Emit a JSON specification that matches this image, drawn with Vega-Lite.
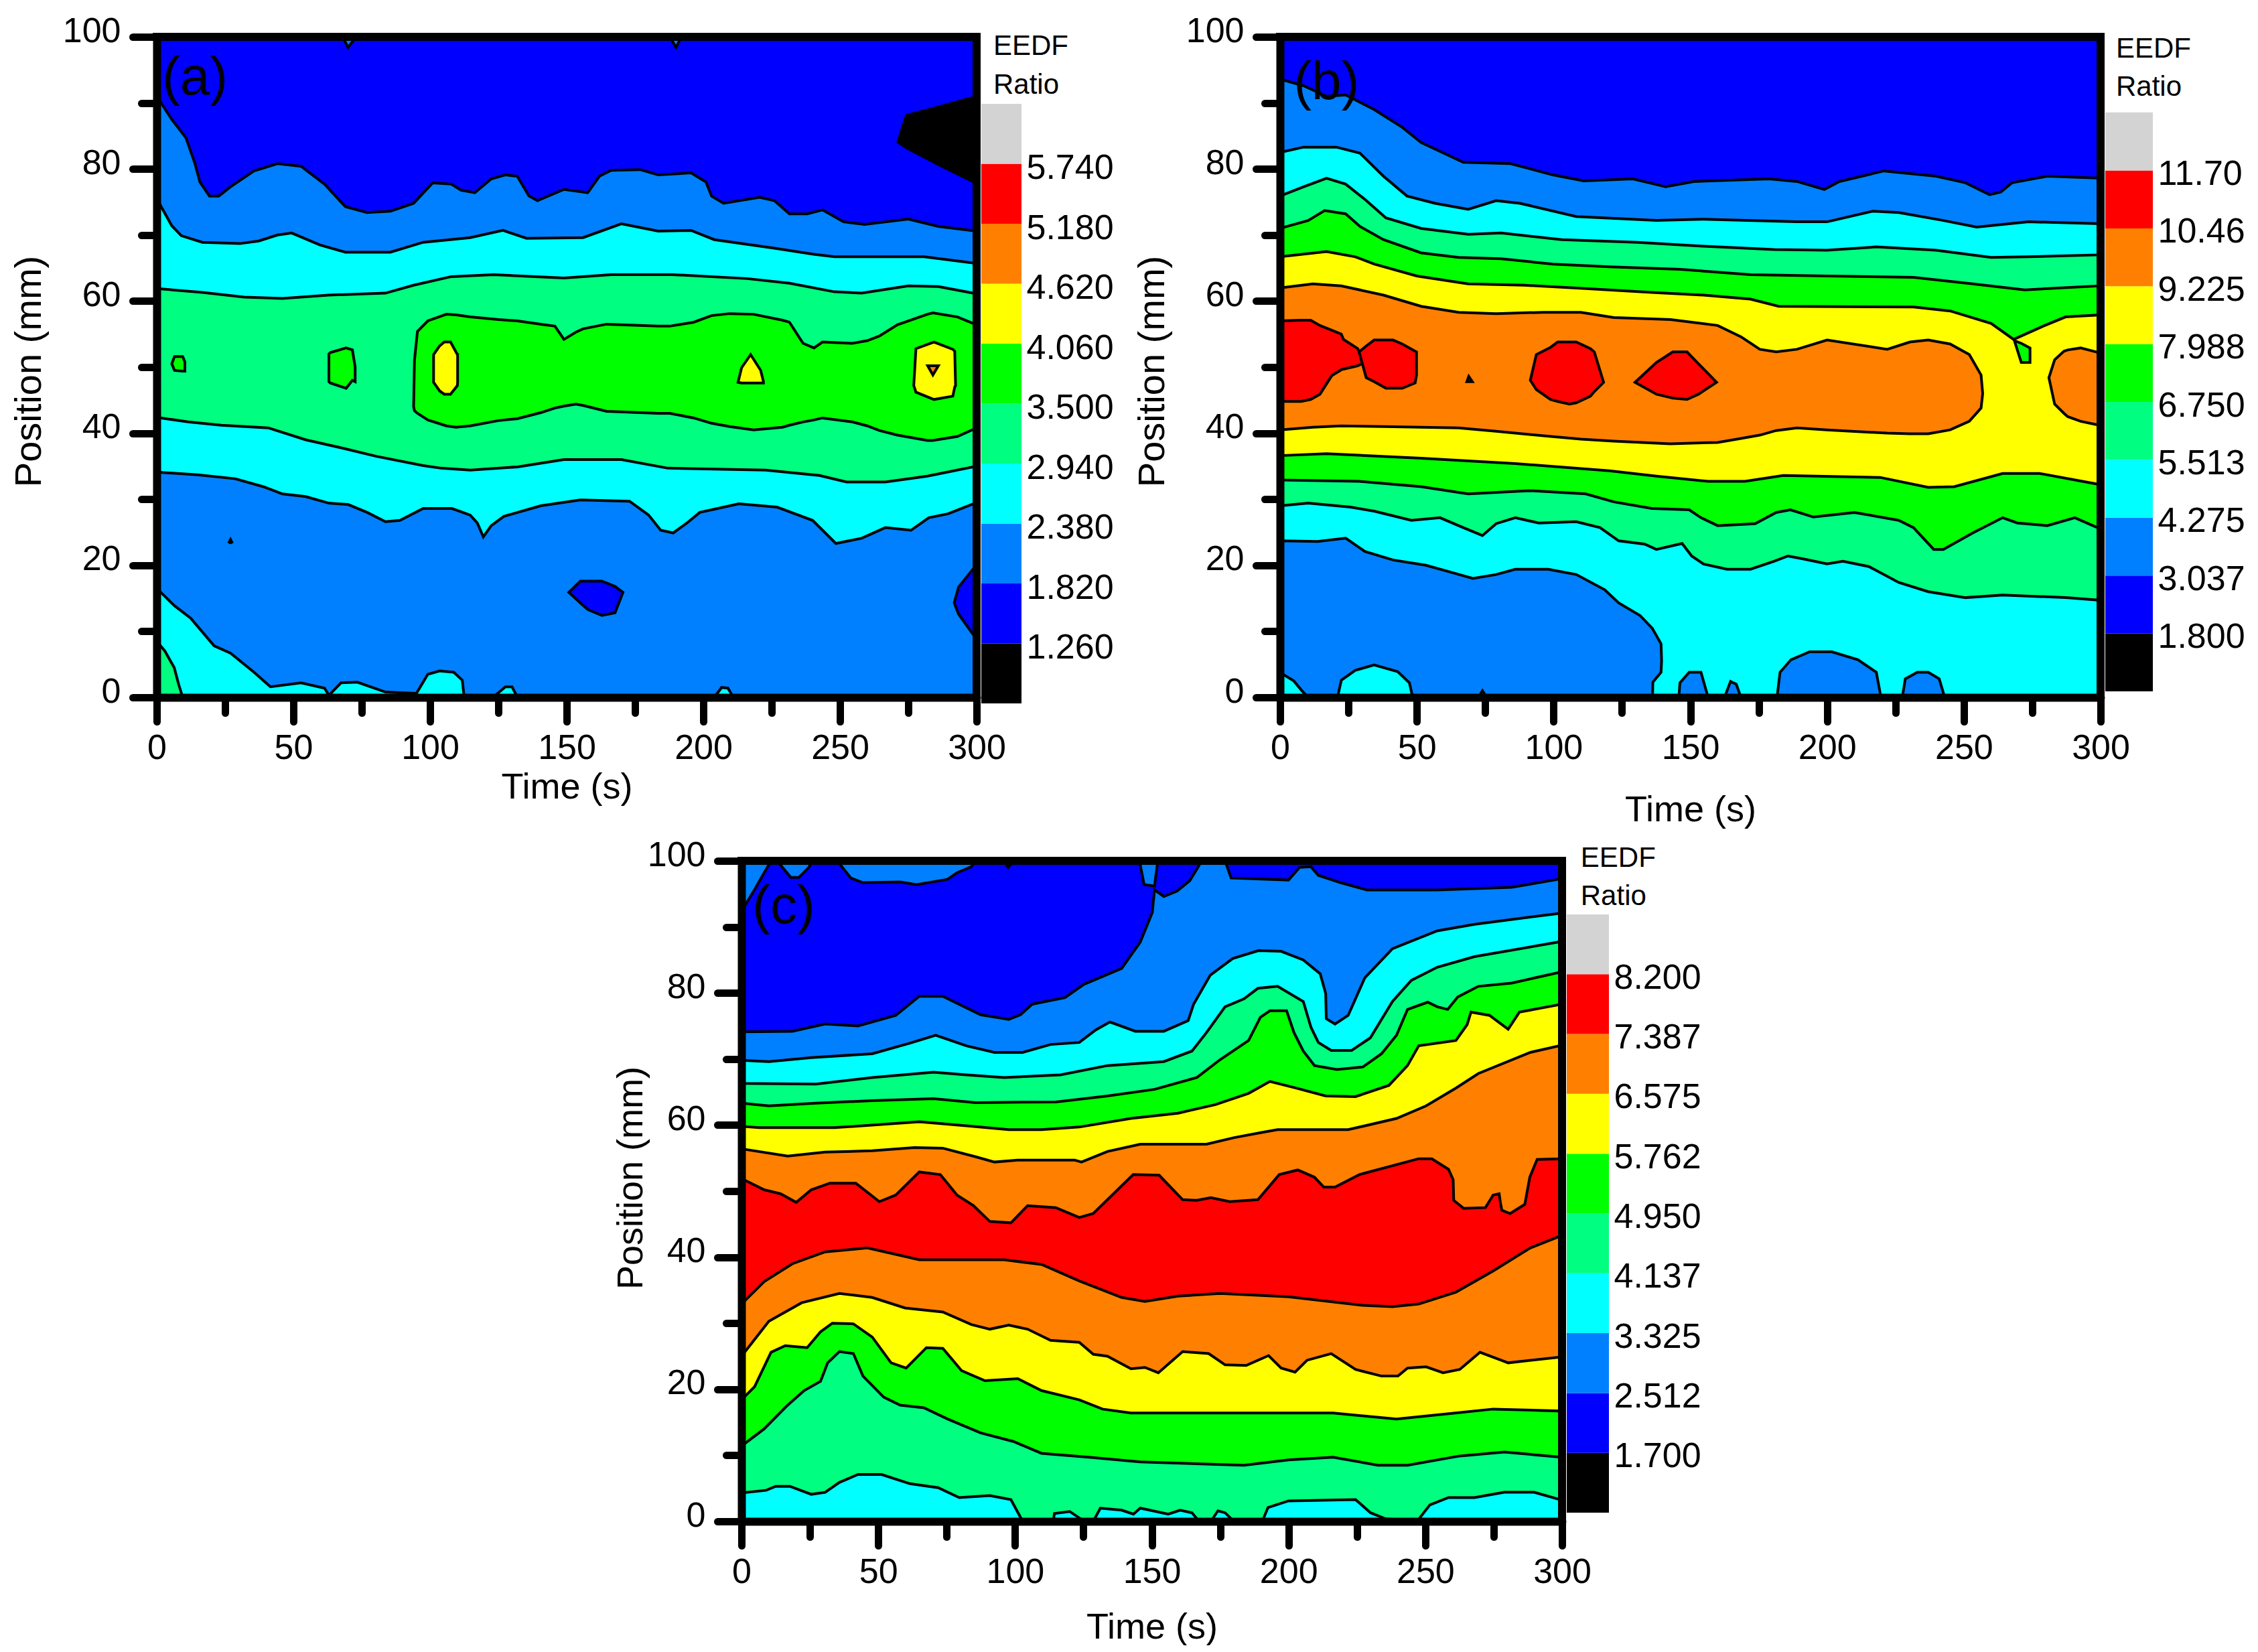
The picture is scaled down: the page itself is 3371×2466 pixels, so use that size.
{"$schema":"https://vega.github.io/schema/vega-lite/v6.json","background":"white","padding":{"left":15,"top":20,"right":0,"bottom":0},"spacing":14,"config":{"font":"Liberation Sans","view":{"stroke":null}},
"datasets":{
"a":[
{"s":"a0","b":"cyan","t":0,"p":0,"q":100},{"s":"a0","b":"cyan","t":300,"p":0,"q":100},
{"s":"a1","b":"spring","t":0,"p":0,"q":8.5},{"s":"a1","b":"spring","t":3,"p":0,"q":7},{"s":"a1","b":"spring","t":6.4,"p":0,"q":4.5},{"s":"a1","b":"spring","t":8,"p":0,"q":2},{"s":"a1","b":"spring","t":9.5,"p":0,"q":0},
{"s":"a2","b":"azure","t":0,"p":16.5,"q":100},{"s":"a2","b":"azure","t":6.4,"p":13.9,"q":100},{"s":"a2","b":"azure","t":12.4,"p":12,"q":100},{"s":"a2","b":"azure","t":21,"p":7.8,"q":100},{"s":"a2","b":"azure","t":27,"p":6.7,"q":100},{"s":"a2","b":"azure","t":35.6,"p":3.8,"q":100},{"s":"a2","b":"azure","t":41.6,"p":1.6,"q":100},{"s":"a2","b":"azure","t":52.8,"p":2.2,"q":100},{"s":"a2","b":"azure","t":61.4,"p":1.4,"q":100},{"s":"a2","b":"azure","t":63,"p":0.3,"q":100},{"s":"a2","b":"azure","t":67.4,"p":2.2,"q":100},{"s":"a2","b":"azure","t":73.4,"p":2.3,"q":100},{"s":"a2","b":"azure","t":83.7,"p":0.8,"q":100},{"s":"a2","b":"azure","t":95,"p":0.6,"q":100},{"s":"a2","b":"azure","t":99.2,"p":3.5,"q":100},{"s":"a2","b":"azure","t":103.5,"p":4,"q":100},{"s":"a2","b":"azure","t":108.7,"p":3.8,"q":100},{"s":"a2","b":"azure","t":111.8,"p":2.6,"q":100},{"s":"a2","b":"azure","t":112.5,"p":0,"q":100},{"s":"a2","b":"azure","t":123,"p":0,"q":100},{"s":"a2","b":"azure","t":127.6,"p":1.6,"q":100},{"s":"a2","b":"azure","t":130,"p":1.6,"q":100},{"s":"a2","b":"azure","t":132,"p":0,"q":100},{"s":"a2","b":"azure","t":204,"p":0,"q":100},{"s":"a2","b":"azure","t":206.7,"p":1.5,"q":100},{"s":"a2","b":"azure","t":209,"p":1.4,"q":100},{"s":"a2","b":"azure","t":211,"p":0,"q":100},{"s":"a2","b":"azure","t":300,"p":0,"q":100},
{"s":"a3","b":"cyan","t":0,"p":34.1,"q":100},{"s":"a3","b":"cyan","t":15,"p":33.7,"q":100},{"s":"a3","b":"cyan","t":28.7,"p":33.1,"q":100},{"s":"a3","b":"cyan","t":39,"p":31.9,"q":100},{"s":"a3","b":"cyan","t":46,"p":30.8,"q":100},{"s":"a3","b":"cyan","t":54.5,"p":30.4,"q":100},{"s":"a3","b":"cyan","t":63,"p":29.4,"q":100},{"s":"a3","b":"cyan","t":70,"p":29.2,"q":100},{"s":"a3","b":"cyan","t":77,"p":28,"q":100},{"s":"a3","b":"cyan","t":83.7,"p":26.6,"q":100},{"s":"a3","b":"cyan","t":89,"p":26.8,"q":100},{"s":"a3","b":"cyan","t":97.5,"p":28.6,"q":100},{"s":"a3","b":"cyan","t":108,"p":28.6,"q":100},{"s":"a3","b":"cyan","t":114.7,"p":27.6,"q":100},{"s":"a3","b":"cyan","t":117.3,"p":26.4,"q":100},{"s":"a3","b":"cyan","t":119.5,"p":24.3,"q":100},{"s":"a3","b":"cyan","t":122.4,"p":26,"q":100},{"s":"a3","b":"cyan","t":127,"p":27.4,"q":100},{"s":"a3","b":"cyan","t":140.5,"p":29,"q":100},{"s":"a3","b":"cyan","t":155,"p":29.9,"q":100},{"s":"a3","b":"cyan","t":173,"p":29.7,"q":100},{"s":"a3","b":"cyan","t":180,"p":27.6,"q":100},{"s":"a3","b":"cyan","t":184.4,"p":25.3,"q":100},{"s":"a3","b":"cyan","t":189,"p":24.9,"q":100},{"s":"a3","b":"cyan","t":194,"p":26.4,"q":100},{"s":"a3","b":"cyan","t":198.7,"p":28,"q":100},{"s":"a3","b":"cyan","t":213,"p":29.3,"q":100},{"s":"a3","b":"cyan","t":227,"p":28.8,"q":100},{"s":"a3","b":"cyan","t":240,"p":26.8,"q":100},{"s":"a3","b":"cyan","t":248.5,"p":23.3,"q":100},{"s":"a3","b":"cyan","t":258,"p":24.1,"q":100},{"s":"a3","b":"cyan","t":266.6,"p":25.7,"q":100},{"s":"a3","b":"cyan","t":276,"p":25.3,"q":100},{"s":"a3","b":"cyan","t":282.5,"p":27.2,"q":100},{"s":"a3","b":"cyan","t":289.6,"p":27.8,"q":100},{"s":"a3","b":"cyan","t":300,"p":29.5,"q":100},
{"s":"a4","b":"spring","t":0,"p":42.4,"q":100},{"s":"a4","b":"spring","t":11.5,"p":41.7,"q":100},{"s":"a4","b":"spring","t":23.6,"p":41.2,"q":100},{"s":"a4","b":"spring","t":40.8,"p":40.8,"q":100},{"s":"a4","b":"spring","t":54.5,"p":39,"q":100},{"s":"a4","b":"spring","t":68.3,"p":37.7,"q":100},{"s":"a4","b":"spring","t":80.3,"p":36.5,"q":100},{"s":"a4","b":"spring","t":97.5,"p":35.1,"q":100},{"s":"a4","b":"spring","t":104,"p":34.7,"q":100},{"s":"a4","b":"spring","t":114.7,"p":34.4,"q":100},{"s":"a4","b":"spring","t":132,"p":34.9,"q":100},{"s":"a4","b":"spring","t":149,"p":36,"q":100},{"s":"a4","b":"spring","t":170,"p":36,"q":100},{"s":"a4","b":"spring","t":187,"p":34.7,"q":100},{"s":"a4","b":"spring","t":222.8,"p":34.4,"q":100},{"s":"a4","b":"spring","t":242.5,"p":33.6,"q":100},{"s":"a4","b":"spring","t":252.4,"p":32.6,"q":100},{"s":"a4","b":"spring","t":266.6,"p":32.6,"q":100},{"s":"a4","b":"spring","t":282,"p":33.5,"q":100},{"s":"a4","b":"spring","t":300,"p":35,"q":100},
{"s":"a5","b":"green","t":94,"p":44,"q":44},{"s":"a5","b":"green","t":94.3,"p":43.4,"q":51},{"s":"a5","b":"green","t":95.4,"p":43,"q":55.4},{"s":"a5","b":"green","t":99.2,"p":42,"q":57},{"s":"a5","b":"green","t":106,"p":41.1,"q":58},{"s":"a5","b":"green","t":109.5,"p":40.9,"q":57.9},{"s":"a5","b":"green","t":114.7,"p":41.1,"q":57.6},{"s":"a5","b":"green","t":125,"p":41.9,"q":57.2},{"s":"a5","b":"green","t":132,"p":42.2,"q":57},{"s":"a5","b":"green","t":140.5,"p":43.1,"q":56.5},{"s":"a5","b":"green","t":145.7,"p":43.8,"q":56.2},{"s":"a5","b":"green","t":149,"p":44.1,"q":54.2},{"s":"a5","b":"green","t":153.4,"p":44.4,"q":55.3},{"s":"a5","b":"green","t":156,"p":44.2,"q":55.8},{"s":"a5","b":"green","t":164.6,"p":43.3,"q":56.5},{"s":"a5","b":"green","t":183.5,"p":43,"q":56.2},{"s":"a5","b":"green","t":187.7,"p":43,"q":56.2},{"s":"a5","b":"green","t":196.5,"p":42.3,"q":56.8},{"s":"a5","b":"green","t":203,"p":41.5,"q":57.8},{"s":"a5","b":"green","t":209.6,"p":41,"q":58.1},{"s":"a5","b":"green","t":218.4,"p":40.5,"q":58},{"s":"a5","b":"green","t":229,"p":40.9,"q":57.1},{"s":"a5","b":"green","t":231.5,"p":41.2,"q":56.8},{"s":"a5","b":"green","t":236.5,"p":41.7,"q":53.6},{"s":"a5","b":"green","t":240.5,"p":42,"q":52.9},{"s":"a5","b":"green","t":243.6,"p":42.3,"q":53.8},{"s":"a5","b":"green","t":254.5,"p":41.7,"q":53.6},{"s":"a5","b":"green","t":260,"p":41.1,"q":54},{"s":"a5","b":"green","t":264.4,"p":40.4,"q":54.7},{"s":"a5","b":"green","t":271,"p":39.7,"q":56.4},{"s":"a5","b":"green","t":282,"p":38.9,"q":58},{"s":"a5","b":"green","t":284,"p":38.9,"q":58.2},{"s":"a5","b":"green","t":293,"p":39.5,"q":57.6},{"s":"a5","b":"green","t":300,"p":40.8,"q":56.4},
{"s":"a9","b":"green","t":5.5,"p":50.5,"q":50.5},{"s":"a9","b":"green","t":6.5,"p":49.5,"q":51.6},{"s":"a9","b":"green","t":9.5,"p":49.4,"q":51.6},{"s":"a9","b":"green","t":10.3,"p":49.4,"q":50.8},
{"s":"a10","b":"green","t":63,"p":47.8,"q":52},{"s":"a10","b":"green","t":63.5,"p":47.6,"q":52.2},{"s":"a10","b":"green","t":69.3,"p":46.8,"q":52.9},{"s":"a10","b":"green","t":71.6,"p":48,"q":52.6},{"s":"a10","b":"green","t":72.6,"p":47.8,"q":50},
{"s":"a11","b":"yellow","t":101.3,"p":47.7,"q":51.9},{"s":"a11","b":"yellow","t":103.5,"p":46.4,"q":53.2},{"s":"a11","b":"yellow","t":105.2,"p":45.9,"q":53.8},{"s":"a11","b":"yellow","t":107.5,"p":45.9,"q":53.8},{"s":"a11","b":"yellow","t":110,"p":47.2,"q":51.9},{"s":"a11","b":"yellow","t":110.1,"p":47.7,"q":51.9},
{"s":"a12","b":"yellow","t":212.7,"p":47.7,"q":47.7},{"s":"a12","b":"yellow","t":214,"p":47.6,"q":49.9},{"s":"a12","b":"yellow","t":217.3,"p":47.6,"q":51.9},{"s":"a12","b":"yellow","t":221,"p":47.6,"q":49.5},{"s":"a12","b":"yellow","t":222,"p":47.6,"q":47.8},
{"s":"a13","b":"yellow","t":277,"p":47.2,"q":47.2},{"s":"a13","b":"yellow","t":277.8,"p":46.2,"q":52.8},{"s":"a13","b":"yellow","t":284.4,"p":45.1,"q":53.8},{"s":"a13","b":"yellow","t":291.3,"p":45.6,"q":52.7},{"s":"a13","b":"yellow","t":292,"p":47,"q":52.4},{"s":"a13","b":"yellow","t":292.3,"p":47.2,"q":47.2},
{"s":"a14","b":"orange","t":282.1,"p":50.2,"q":50.2},{"s":"a14","b":"orange","t":284,"p":48.8,"q":50.2},{"s":"a14","b":"orange","t":286,"p":50.2,"q":50.2},
{"s":"a6","b":"cyan","t":0,"p":61.9,"q":100},{"s":"a6","b":"cyan","t":16.7,"p":61.3,"q":100},{"s":"a6","b":"cyan","t":32,"p":60.6,"q":100},{"s":"a6","b":"cyan","t":46,"p":60.4,"q":100},{"s":"a6","b":"cyan","t":63,"p":60.9,"q":100},{"s":"a6","b":"cyan","t":83.7,"p":61.2,"q":100},{"s":"a6","b":"cyan","t":94,"p":62.4,"q":100},{"s":"a6","b":"cyan","t":107.8,"p":63.7,"q":100},{"s":"a6","b":"cyan","t":123.3,"p":64,"q":100},{"s":"a6","b":"cyan","t":149,"p":63.5,"q":100},{"s":"a6","b":"cyan","t":166.3,"p":64,"q":100},{"s":"a6","b":"cyan","t":188.6,"p":64,"q":100},{"s":"a6","b":"cyan","t":216,"p":63.4,"q":100},{"s":"a6","b":"cyan","t":231.5,"p":62.7,"q":100},{"s":"a6","b":"cyan","t":248,"p":61.4,"q":100},{"s":"a6","b":"cyan","t":258,"p":61.2,"q":100},{"s":"a6","b":"cyan","t":275,"p":62.3,"q":100},{"s":"a6","b":"cyan","t":286,"p":62.2,"q":100},{"s":"a6","b":"cyan","t":300,"p":61.1,"q":100},
{"s":"a7","b":"azure","t":0,"p":75.5,"q":100},{"s":"a7","b":"azure","t":5.5,"p":71.4,"q":100},{"s":"a7","b":"azure","t":9,"p":69.9,"q":100},{"s":"a7","b":"azure","t":16.7,"p":68.9,"q":100},{"s":"a7","b":"azure","t":30.4,"p":68.7,"q":100},{"s":"a7","b":"azure","t":37.3,"p":69.1,"q":100},{"s":"a7","b":"azure","t":44.2,"p":70,"q":100},{"s":"a7","b":"azure","t":49.4,"p":70.3,"q":100},{"s":"a7","b":"azure","t":59.7,"p":68.5,"q":100},{"s":"a7","b":"azure","t":69,"p":67.4,"q":100},{"s":"a7","b":"azure","t":85.5,"p":67.4,"q":100},{"s":"a7","b":"azure","t":97.5,"p":68.9,"q":100},{"s":"a7","b":"azure","t":114.7,"p":69.6,"q":100},{"s":"a7","b":"azure","t":126.7,"p":70.7,"q":100},{"s":"a7","b":"azure","t":135.3,"p":69.5,"q":100},{"s":"a7","b":"azure","t":156,"p":69.6,"q":100},{"s":"a7","b":"azure","t":170,"p":71.7,"q":100},{"s":"a7","b":"azure","t":183.5,"p":70.6,"q":100},{"s":"a7","b":"azure","t":195.5,"p":70.7,"q":100},{"s":"a7","b":"azure","t":204,"p":69.3,"q":100},{"s":"a7","b":"azure","t":226,"p":68,"q":100},{"s":"a7","b":"azure","t":240.3,"p":67.1,"q":100},{"s":"a7","b":"azure","t":248,"p":66.7,"q":100},{"s":"a7","b":"azure","t":280.8,"p":66.7,"q":100},{"s":"a7","b":"azure","t":300,"p":65.7,"q":100},
{"s":"a8","b":"blue","t":0,"p":91,"q":100},{"s":"a8","b":"blue","t":5.5,"p":87.5,"q":100},{"s":"a8","b":"blue","t":10.7,"p":84.7,"q":100},{"s":"a8","b":"blue","t":14,"p":80.8,"q":100},{"s":"a8","b":"blue","t":15.8,"p":78,"q":100},{"s":"a8","b":"blue","t":19.3,"p":75.9,"q":100},{"s":"a8","b":"blue","t":22.7,"p":75.9,"q":100},{"s":"a8","b":"blue","t":27,"p":77.3,"q":100},{"s":"a8","b":"blue","t":35.6,"p":79.7,"q":100},{"s":"a8","b":"blue","t":44.2,"p":80.8,"q":100},{"s":"a8","b":"blue","t":52.8,"p":80.4,"q":100},{"s":"a8","b":"blue","t":61.4,"p":77.7,"q":100},{"s":"a8","b":"blue","t":69,"p":74.3,"q":100},{"s":"a8","b":"blue","t":76.9,"p":73.4,"q":100},{"s":"a8","b":"blue","t":85.5,"p":73.6,"q":100},{"s":"a8","b":"blue","t":94,"p":74.8,"q":100},{"s":"a8","b":"blue","t":101,"p":77.9,"q":100},{"s":"a8","b":"blue","t":107.8,"p":77.7,"q":100},{"s":"a8","b":"blue","t":111.3,"p":76.8,"q":100},{"s":"a8","b":"blue","t":116.4,"p":76.4,"q":100},{"s":"a8","b":"blue","t":122.4,"p":78.5,"q":100},{"s":"a8","b":"blue","t":127.6,"p":79.1,"q":100},{"s":"a8","b":"blue","t":131.9,"p":78.9,"q":100},{"s":"a8","b":"blue","t":136.2,"p":75.9,"q":100},{"s":"a8","b":"blue","t":139.3,"p":75.2,"q":100},{"s":"a8","b":"blue","t":149,"p":76.9,"q":100},{"s":"a8","b":"blue","t":157.7,"p":76.4,"q":100},{"s":"a8","b":"blue","t":162,"p":78.9,"q":100},{"s":"a8","b":"blue","t":166.3,"p":79.8,"q":100},{"s":"a8","b":"blue","t":176.8,"p":79.9,"q":100},{"s":"a8","b":"blue","t":183.5,"p":79.1,"q":100},{"s":"a8","b":"blue","t":195.5,"p":79.4,"q":100},{"s":"a8","b":"blue","t":201,"p":78,"q":100},{"s":"a8","b":"blue","t":203,"p":75.9,"q":100},{"s":"a8","b":"blue","t":207.4,"p":74.8,"q":100},{"s":"a8","b":"blue","t":220.6,"p":75.7,"q":100},{"s":"a8","b":"blue","t":226,"p":75.2,"q":100},{"s":"a8","b":"blue","t":231.5,"p":73.2,"q":100},{"s":"a8","b":"blue","t":238,"p":73.2,"q":100},{"s":"a8","b":"blue","t":243.6,"p":73.8,"q":100},{"s":"a8","b":"blue","t":251.3,"p":72,"q":100},{"s":"a8","b":"blue","t":259,"p":71.6,"q":100},{"s":"a8","b":"blue","t":275,"p":72.4,"q":100},{"s":"a8","b":"blue","t":286,"p":71.3,"q":100},{"s":"a8","b":"blue","t":300,"p":70.6,"q":100},
{"s":"a15","b":"azure","t":68,"p":100,"q":100},{"s":"a15","b":"azure","t":70,"p":98.4,"q":100},{"s":"a15","b":"azure","t":73,"p":100,"q":100},
{"s":"a16","b":"azure","t":187.8,"p":100,"q":100},{"s":"a16","b":"azure","t":190,"p":98.4,"q":100},{"s":"a16","b":"azure","t":192,"p":100,"q":100},
{"s":"a17","b":"blue","t":150.8,"p":15.9,"q":15.9},{"s":"a17","b":"blue","t":155,"p":14.3,"q":17.6},{"s":"a17","b":"blue","t":157.7,"p":13.3,"q":17.6},{"s":"a17","b":"blue","t":162.9,"p":12.4,"q":17.6},{"s":"a17","b":"blue","t":167.7,"p":12.8,"q":16.8},{"s":"a17","b":"blue","t":170.6,"p":15.9,"q":15.9},
{"s":"a18","b":"blue","t":291.8,"p":14.3,"q":14.3},{"s":"a18","b":"blue","t":293.4,"p":12.6,"q":16.7},{"s":"a18","b":"blue","t":298.6,"p":9.6,"q":19.4},{"s":"a18","b":"blue","t":300,"p":9,"q":20},
{"s":"a19","b":"black","t":271.2,"p":84.1,"q":84.1},{"s":"a19","b":"black","t":274.3,"p":83.2,"q":88.1},{"s":"a19","b":"black","t":286.3,"p":80.6,"q":89.4},{"s":"a19","b":"black","t":298.6,"p":78.1,"q":90.8},{"s":"a19","b":"black","t":300,"p":77.8,"q":91},
{"s":"a20","b":"black","t":26.5,"p":23.5,"q":23.5},{"s":"a20","b":"black","t":27,"p":23.4,"q":23.9},{"s":"a20","b":"black","t":27.5,"p":23.5,"q":23.5}
],
"b":[
{"s":"b0","b":"cyan","t":0,"p":0,"q":100},{"s":"b0","b":"cyan","t":300,"p":0,"q":100},
{"s":"b1","b":"azure","t":0,"p":0,"q":23.7},{"s":"b1","b":"azure","t":13.8,"p":0,"q":23.6},{"s":"b1","b":"azure","t":24,"p":0,"q":24.1},{"s":"b1","b":"azure","t":31,"p":0,"q":22.1},{"s":"b1","b":"azure","t":41.3,"p":0,"q":20.8},{"s":"b1","b":"azure","t":53.3,"p":0,"q":20},{"s":"b1","b":"azure","t":62,"p":0,"q":19},{"s":"b1","b":"azure","t":70.5,"p":0,"q":18},{"s":"b1","b":"azure","t":79,"p":0,"q":18.6},{"s":"b1","b":"azure","t":86,"p":0,"q":19.4},{"s":"b1","b":"azure","t":98,"p":0,"q":19.4},{"s":"b1","b":"azure","t":108.3,"p":0,"q":18.6},{"s":"b1","b":"azure","t":118.7,"p":0,"q":16.3},{"s":"b1","b":"azure","t":123.8,"p":0,"q":14.3},{"s":"b1","b":"azure","t":131.6,"p":0,"q":12.4},{"s":"b1","b":"azure","t":136.2,"p":0,"q":10.4},{"s":"b1","b":"azure","t":136.3,"p":2.3,"q":10.3},{"s":"b1","b":"azure","t":139.3,"p":3.8,"q":8.1},{"s":"b1","b":"azure","t":139.5,"p":5.5,"q":5.5},
{"s":"b2","b":"cyan","t":0,"p":0,"q":3.6},{"s":"b2","b":"cyan","t":1.5,"p":0,"q":3.4},{"s":"b2","b":"cyan","t":5,"p":0,"q":2.5},{"s":"b2","b":"cyan","t":8,"p":0,"q":1},{"s":"b2","b":"cyan","t":10.3,"p":0,"q":0},
{"s":"b3","b":"cyan","t":21,"p":0,"q":0},{"s":"b3","b":"cyan","t":22.4,"p":0,"q":2.6},{"s":"b3","b":"cyan","t":27.5,"p":0,"q":4.1},{"s":"b3","b":"cyan","t":34.4,"p":0,"q":4.9},{"s":"b3","b":"cyan","t":43,"p":0,"q":3.9},{"s":"b3","b":"cyan","t":47.3,"p":0,"q":2.2},{"s":"b3","b":"cyan","t":48.5,"p":0,"q":0},
{"s":"b4","b":"cyan","t":72.5,"p":0,"q":0},{"s":"b4","b":"cyan","t":74,"p":0,"q":1},{"s":"b4","b":"cyan","t":75.5,"p":0,"q":0},
{"s":"b5","b":"azure","t":145.8,"p":0,"q":0},{"s":"b5","b":"azure","t":146.2,"p":0,"q":2.2},{"s":"b5","b":"azure","t":149.6,"p":0,"q":3.8},{"s":"b5","b":"azure","t":153.9,"p":0,"q":3.8},{"s":"b5","b":"azure","t":156.5,"p":0,"q":0},
{"s":"b6","b":"azure","t":162.5,"p":0,"q":0},{"s":"b6","b":"azure","t":164.7,"p":0,"q":2.4},{"s":"b6","b":"azure","t":166.8,"p":0,"q":2},{"s":"b6","b":"azure","t":168.5,"p":0,"q":0},
{"s":"b7","b":"azure","t":181.7,"p":0,"q":0},{"s":"b7","b":"azure","t":182.8,"p":0,"q":3.8},{"s":"b7","b":"azure","t":186.8,"p":0,"q":5.7},{"s":"b7","b":"azure","t":193.6,"p":0,"q":6.9},{"s":"b7","b":"azure","t":201.8,"p":0,"q":6.9},{"s":"b7","b":"azure","t":211.3,"p":0,"q":5.7},{"s":"b7","b":"azure","t":218,"p":0,"q":3.8},{"s":"b7","b":"azure","t":219.7,"p":0,"q":0},
{"s":"b8","b":"azure","t":227.5,"p":0,"q":0},{"s":"b8","b":"azure","t":228.6,"p":0,"q":2.8},{"s":"b8","b":"azure","t":233,"p":0,"q":3.8},{"s":"b8","b":"azure","t":237,"p":0,"q":3.8},{"s":"b8","b":"azure","t":241,"p":0,"q":2.8},{"s":"b8","b":"azure","t":243,"p":0,"q":0},
{"s":"b9","b":"spring","t":0,"p":29,"q":100},{"s":"b9","b":"spring","t":10.3,"p":29.4,"q":100},{"s":"b9","b":"spring","t":25.8,"p":28.8,"q":100},{"s":"b9","b":"spring","t":34.4,"p":28.2,"q":100},{"s":"b9","b":"spring","t":48,"p":26.8,"q":100},{"s":"b9","b":"spring","t":58.5,"p":27.2,"q":100},{"s":"b9","b":"spring","t":67,"p":25.7,"q":100},{"s":"b9","b":"spring","t":74,"p":24.5,"q":100},{"s":"b9","b":"spring","t":79,"p":26.3,"q":100},{"s":"b9","b":"spring","t":86,"p":27.2,"q":100},{"s":"b9","b":"spring","t":94.6,"p":26.4,"q":100},{"s":"b9","b":"spring","t":108.3,"p":26.6,"q":100},{"s":"b9","b":"spring","t":117,"p":25.7,"q":100},{"s":"b9","b":"spring","t":123.8,"p":23.7,"q":100},{"s":"b9","b":"spring","t":133.3,"p":23.2,"q":100},{"s":"b9","b":"spring","t":137.6,"p":22.4,"q":100},{"s":"b9","b":"spring","t":147,"p":23.3,"q":100},{"s":"b9","b":"spring","t":150.5,"p":21.4,"q":100},{"s":"b9","b":"spring","t":154.8,"p":20.2,"q":100},{"s":"b9","b":"spring","t":163.4,"p":19.4,"q":100},{"s":"b9","b":"spring","t":172,"p":19.4,"q":100},{"s":"b9","b":"spring","t":180.6,"p":20.6,"q":100},{"s":"b9","b":"spring","t":185.7,"p":21.4,"q":100},{"s":"b9","b":"spring","t":190.9,"p":21,"q":100},{"s":"b9","b":"spring","t":200,"p":20.2,"q":100},{"s":"b9","b":"spring","t":205.8,"p":20.6,"q":100},{"s":"b9","b":"spring","t":215.3,"p":19.8,"q":100},{"s":"b9","b":"spring","t":226.2,"p":17.4,"q":100},{"s":"b9","b":"spring","t":237,"p":16,"q":100},{"s":"b9","b":"spring","t":250.6,"p":15.1,"q":100},{"s":"b9","b":"spring","t":264.2,"p":15.5,"q":100},{"s":"b9","b":"spring","t":287.2,"p":15.1,"q":100},{"s":"b9","b":"spring","t":300,"p":14.7,"q":100},
{"s":"b10","b":"green","t":0,"p":32.9,"q":100},{"s":"b10","b":"green","t":29,"p":32.7,"q":100},{"s":"b10","b":"green","t":51.6,"p":31.9,"q":100},{"s":"b10","b":"green","t":68.8,"p":30.8,"q":100},{"s":"b10","b":"green","t":91,"p":31.3,"q":100},{"s":"b10","b":"green","t":111.8,"p":30.8,"q":100},{"s":"b10","b":"green","t":122,"p":29.6,"q":100},{"s":"b10","b":"green","t":135.9,"p":28.6,"q":100},{"s":"b10","b":"green","t":149.6,"p":28.4,"q":100},{"s":"b10","b":"green","t":153.9,"p":27.2,"q":100},{"s":"b10","b":"green","t":160,"p":26,"q":100},{"s":"b10","b":"green","t":173.7,"p":26.3,"q":100},{"s":"b10","b":"green","t":181.4,"p":28,"q":100},{"s":"b10","b":"green","t":186.6,"p":28.4,"q":100},{"s":"b10","b":"green","t":195,"p":27.3,"q":100},{"s":"b10","b":"green","t":210,"p":28,"q":100},{"s":"b10","b":"green","t":226.2,"p":26.8,"q":100},{"s":"b10","b":"green","t":231.6,"p":25.7,"q":100},{"s":"b10","b":"green","t":239,"p":22.4,"q":100},{"s":"b10","b":"green","t":242.5,"p":22.4,"q":100},{"s":"b10","b":"green","t":253.3,"p":24.9,"q":100},{"s":"b10","b":"green","t":264.2,"p":27.2,"q":100},{"s":"b10","b":"green","t":269.6,"p":26.4,"q":100},{"s":"b10","b":"green","t":280.5,"p":26,"q":100},{"s":"b10","b":"green","t":290.6,"p":27.2,"q":100},{"s":"b10","b":"green","t":300,"p":25.5,"q":100},
{"s":"b11","b":"yellow","t":0,"p":36.6,"q":100},{"s":"b11","b":"yellow","t":17,"p":36.9,"q":100},{"s":"b11","b":"yellow","t":51.6,"p":36.2,"q":100},{"s":"b11","b":"yellow","t":86,"p":35.4,"q":100},{"s":"b11","b":"yellow","t":120.4,"p":34.3,"q":100},{"s":"b11","b":"yellow","t":137.6,"p":33.5,"q":100},{"s":"b11","b":"yellow","t":156.5,"p":32.7,"q":100},{"s":"b11","b":"yellow","t":170,"p":32.7,"q":100},{"s":"b11","b":"yellow","t":184,"p":33.6,"q":100},{"s":"b11","b":"yellow","t":219.4,"p":33.3,"q":100},{"s":"b11","b":"yellow","t":237,"p":31.8,"q":100},{"s":"b11","b":"yellow","t":246.5,"p":31.9,"q":100},{"s":"b11","b":"yellow","t":264.2,"p":33.9,"q":100},{"s":"b11","b":"yellow","t":277.7,"p":33.9,"q":100},{"s":"b11","b":"yellow","t":300,"p":32.2,"q":100},
{"s":"b12","b":"orange","t":0,"p":40.5,"q":62},{"s":"b12","b":"orange","t":12,"p":40.9,"q":62.6},{"s":"b12","b":"orange","t":22.4,"p":41.1,"q":62.3},{"s":"b12","b":"orange","t":37.8,"p":41,"q":60.9},{"s":"b12","b":"orange","t":51.6,"p":40.9,"q":59.2},{"s":"b12","b":"orange","t":65.3,"p":40.8,"q":58.3},{"s":"b12","b":"orange","t":79,"p":40.3,"q":58.1},{"s":"b12","b":"orange","t":96.3,"p":39.6,"q":58.3},{"s":"b12","b":"orange","t":110,"p":39.1,"q":58.3},{"s":"b12","b":"orange","t":122,"p":38.8,"q":57.5},{"s":"b12","b":"orange","t":142.7,"p":38.4,"q":57.2},{"s":"b12","b":"orange","t":160,"p":38.6,"q":56.3},{"s":"b12","b":"orange","t":168.5,"p":39.2,"q":54.6},{"s":"b12","b":"orange","t":175.4,"p":39.7,"q":52.7},{"s":"b12","b":"orange","t":181.4,"p":40.4,"q":52.3},{"s":"b12","b":"orange","t":189,"p":40.8,"q":52.7},{"s":"b12","b":"orange","t":200,"p":40.5,"q":54.1},{"s":"b12","b":"orange","t":222,"p":40,"q":52.7},{"s":"b12","b":"orange","t":230.3,"p":39.9,"q":53.8},{"s":"b12","b":"orange","t":237,"p":39.9,"q":54.1},{"s":"b12","b":"orange","t":245,"p":40.5,"q":53.5},{"s":"b12","b":"orange","t":252,"p":41.8,"q":51.9},{"s":"b12","b":"orange","t":256.3,"p":43.8,"q":48.8},{"s":"b12","b":"orange","t":256.9,"p":46,"q":46},
{"s":"b13","b":"orange","t":281.1,"p":48.4,"q":48.4},{"s":"b13","b":"orange","t":283.2,"p":44.4,"q":51.1},{"s":"b13","b":"orange","t":286.6,"p":43,"q":52.4},{"s":"b13","b":"orange","t":288,"p":42.5,"q":52.6},{"s":"b13","b":"orange","t":292.7,"p":41.8,"q":52.9},{"s":"b13","b":"orange","t":298.4,"p":41.3,"q":52.3},{"s":"b13","b":"orange","t":300,"p":41.2,"q":52.1},
{"s":"b14","b":"red","t":0,"p":44.8,"q":57},{"s":"b14","b":"red","t":7.7,"p":44.8,"q":57.1},{"s":"b14","b":"red","t":11.2,"p":45.1,"q":57.1},{"s":"b14","b":"red","t":14.6,"p":45.9,"q":56.3},{"s":"b14","b":"red","t":18.9,"p":48.7,"q":55.6},{"s":"b14","b":"red","t":22.4,"p":49.6,"q":55},{"s":"b14","b":"red","t":23.2,"p":49.7,"q":54.2},{"s":"b14","b":"red","t":28.4,"p":50.2,"q":52.8},{"s":"b14","b":"red","t":30.6,"p":50.6,"q":50.6},
{"s":"b15","b":"red","t":28.9,"p":52.3,"q":52.3},{"s":"b15","b":"red","t":31.5,"p":48.4,"q":53.2},{"s":"b15","b":"red","t":34.4,"p":47.8,"q":54.1},{"s":"b15","b":"red","t":38.7,"p":46.8,"q":54.1},{"s":"b15","b":"red","t":41.3,"p":46.8,"q":54.1},{"s":"b15","b":"red","t":44.7,"p":46.8,"q":53.5},{"s":"b15","b":"red","t":49.4,"p":47.6,"q":52.4},{"s":"b15","b":"red","t":49.9,"p":48.8,"q":52.3},
{"s":"b16","b":"red","t":68.3,"p":47.8,"q":47.8},{"s":"b16","b":"red","t":69,"p":47.8,"q":48.6},{"s":"b16","b":"red","t":70.3,"p":47.8,"q":47.8},
{"s":"b17","b":"red","t":91.5,"p":48,"q":48},{"s":"b17","b":"red","t":93.7,"p":46.6,"q":51.9},{"s":"b17","b":"red","t":98.9,"p":45.1,"q":53},{"s":"b17","b":"red","t":101.5,"p":44.8,"q":53.8},{"s":"b17","b":"red","t":105.8,"p":44.4,"q":53.8},{"s":"b17","b":"red","t":108.3,"p":44.6,"q":53.8},{"s":"b17","b":"red","t":113.5,"p":45.6,"q":52.8},{"s":"b17","b":"red","t":114.9,"p":46.3,"q":52.3},{"s":"b17","b":"red","t":118.3,"p":47.7,"q":47.7},
{"s":"b18","b":"red","t":129.8,"p":47.7,"q":47.7},{"s":"b18","b":"red","t":137.6,"p":45.9,"q":50.7},{"s":"b18","b":"red","t":143.6,"p":45.3,"q":52.3},{"s":"b18","b":"red","t":148.8,"p":45.1,"q":52.3},{"s":"b18","b":"red","t":153,"p":45.9,"q":50.5},{"s":"b18","b":"red","t":159.6,"p":47.7,"q":47.7},
{"s":"b19","b":"green","t":268.5,"p":54,"q":54},{"s":"b19","b":"green","t":271,"p":50.7,"q":53.6},{"s":"b19","b":"green","t":274.2,"p":50.7,"q":52.9},
{"s":"b20","b":"green","t":0,"p":66.7,"q":100},{"s":"b20","b":"green","t":17,"p":67.5,"q":100},{"s":"b20","b":"green","t":27.5,"p":66.7,"q":100},{"s":"b20","b":"green","t":34.4,"p":65.6,"q":100},{"s":"b20","b":"green","t":50,"p":63.8,"q":100},{"s":"b20","b":"green","t":68.8,"p":62.6,"q":100},{"s":"b20","b":"green","t":89.4,"p":62.4,"q":100},{"s":"b20","b":"green","t":111.8,"p":61.9,"q":100},{"s":"b20","b":"green","t":135.9,"p":61.3,"q":100},{"s":"b20","b":"green","t":154.8,"p":60.9,"q":100},{"s":"b20","b":"green","t":172,"p":60.3,"q":100},{"s":"b20","b":"green","t":182.3,"p":59.2,"q":100},{"s":"b20","b":"green","t":231.6,"p":59.1,"q":100},{"s":"b20","b":"green","t":245,"p":58.5,"q":100},{"s":"b20","b":"green","t":260,"p":56.6,"q":100},{"s":"b20","b":"green","t":268.2,"p":54.2,"q":100},{"s":"b20","b":"green","t":279,"p":56.2,"q":100},{"s":"b20","b":"green","t":287.2,"p":57.6,"q":100},{"s":"b20","b":"green","t":300,"p":57.9,"q":100},
{"s":"b21","b":"spring","t":0,"p":71,"q":100},{"s":"b21","b":"spring","t":10.3,"p":72.2,"q":100},{"s":"b21","b":"spring","t":16.3,"p":73.7,"q":100},{"s":"b21","b":"spring","t":24,"p":73.2,"q":100},{"s":"b21","b":"spring","t":29.2,"p":71.3,"q":100},{"s":"b21","b":"spring","t":37.8,"p":69.3,"q":100},{"s":"b21","b":"spring","t":51.6,"p":67.3,"q":100},{"s":"b21","b":"spring","t":65.3,"p":66.6,"q":100},{"s":"b21","b":"spring","t":80.8,"p":66.4,"q":100},{"s":"b21","b":"spring","t":99.7,"p":65.6,"q":100},{"s":"b21","b":"spring","t":120.4,"p":65.2,"q":100},{"s":"b21","b":"spring","t":146.2,"p":64.8,"q":100},{"s":"b21","b":"spring","t":172,"p":64,"q":100},{"s":"b21","b":"spring","t":200,"p":63.8,"q":100},{"s":"b21","b":"spring","t":231.6,"p":63.6,"q":100},{"s":"b21","b":"spring","t":253.3,"p":62.6,"q":100},{"s":"b21","b":"spring","t":272.3,"p":61.7,"q":100},{"s":"b21","b":"spring","t":300,"p":62.3,"q":100},
{"s":"b22","b":"cyan","t":0,"p":75.9,"q":100},{"s":"b22","b":"cyan","t":8.6,"p":77.3,"q":100},{"s":"b22","b":"cyan","t":17,"p":78.6,"q":100},{"s":"b22","b":"cyan","t":24,"p":77.7,"q":100},{"s":"b22","b":"cyan","t":31,"p":75.4,"q":100},{"s":"b22","b":"cyan","t":38.7,"p":72.6,"q":100},{"s":"b22","b":"cyan","t":51.6,"p":71,"q":100},{"s":"b22","b":"cyan","t":68.8,"p":70.1,"q":100},{"s":"b22","b":"cyan","t":80.8,"p":70.3,"q":100},{"s":"b22","b":"cyan","t":103,"p":69.3,"q":100},{"s":"b22","b":"cyan","t":130.7,"p":68.9,"q":100},{"s":"b22","b":"cyan","t":154.8,"p":68.3,"q":100},{"s":"b22","b":"cyan","t":180.6,"p":67.8,"q":100},{"s":"b22","b":"cyan","t":200,"p":67.7,"q":100},{"s":"b22","b":"cyan","t":218,"p":68.2,"q":100},{"s":"b22","b":"cyan","t":239.8,"p":67.7,"q":100},{"s":"b22","b":"cyan","t":260,"p":66.6,"q":100},{"s":"b22","b":"cyan","t":273.7,"p":66.7,"q":100},{"s":"b22","b":"cyan","t":300,"p":67,"q":100},
{"s":"b23","b":"azure","t":0,"p":82.5,"q":100},{"s":"b23","b":"azure","t":8.6,"p":83.3,"q":100},{"s":"b23","b":"azure","t":20.6,"p":83.3,"q":100},{"s":"b23","b":"azure","t":29.2,"p":82.4,"q":100},{"s":"b23","b":"azure","t":37.8,"p":78.9,"q":100},{"s":"b23","b":"azure","t":46.4,"p":75.9,"q":100},{"s":"b23","b":"azure","t":56.7,"p":74.8,"q":100},{"s":"b23","b":"azure","t":68.8,"p":73.9,"q":100},{"s":"b23","b":"azure","t":79,"p":75.2,"q":100},{"s":"b23","b":"azure","t":87.7,"p":74.8,"q":100},{"s":"b23","b":"azure","t":108.3,"p":72.8,"q":100},{"s":"b23","b":"azure","t":137.6,"p":72.2,"q":100},{"s":"b23","b":"azure","t":154.8,"p":72.4,"q":100},{"s":"b23","b":"azure","t":189,"p":72,"q":100},{"s":"b23","b":"azure","t":200,"p":72,"q":100},{"s":"b23","b":"azure","t":216.7,"p":73.6,"q":100},{"s":"b23","b":"azure","t":226.2,"p":73.4,"q":100},{"s":"b23","b":"azure","t":242.5,"p":72.2,"q":100},{"s":"b23","b":"azure","t":254.7,"p":71.2,"q":100},{"s":"b23","b":"azure","t":273.7,"p":72,"q":100},{"s":"b23","b":"azure","t":300,"p":71.7,"q":100},
{"s":"b24","b":"blue","t":0,"p":93.6,"q":100},{"s":"b24","b":"blue","t":8.6,"p":92.6,"q":100},{"s":"b24","b":"blue","t":17,"p":91,"q":100},{"s":"b24","b":"blue","t":24,"p":91.2,"q":100},{"s":"b24","b":"blue","t":34.4,"p":89,"q":100},{"s":"b24","b":"blue","t":44.7,"p":86.3,"q":100},{"s":"b24","b":"blue","t":51.6,"p":84,"q":100},{"s":"b24","b":"blue","t":67,"p":81,"q":100},{"s":"b24","b":"blue","t":84.3,"p":80.8,"q":100},{"s":"b24","b":"blue","t":99.7,"p":79.1,"q":100},{"s":"b24","b":"blue","t":111,"p":78.2,"q":100},{"s":"b24","b":"blue","t":129,"p":78.5,"q":100},{"s":"b24","b":"blue","t":141,"p":77.3,"q":100},{"s":"b24","b":"blue","t":151.3,"p":78.1,"q":100},{"s":"b24","b":"blue","t":178.8,"p":78.5,"q":100},{"s":"b24","b":"blue","t":189,"p":78.1,"q":100},{"s":"b24","b":"blue","t":199,"p":76.9,"q":100},{"s":"b24","b":"blue","t":204.5,"p":78.1,"q":100},{"s":"b24","b":"blue","t":220.8,"p":79.7,"q":100},{"s":"b24","b":"blue","t":239.8,"p":78.9,"q":100},{"s":"b24","b":"blue","t":250.6,"p":77.9,"q":100},{"s":"b24","b":"blue","t":259.4,"p":76.1,"q":100},{"s":"b24","b":"blue","t":263.5,"p":76.5,"q":100},{"s":"b24","b":"blue","t":267.6,"p":77.9,"q":100},{"s":"b24","b":"blue","t":280.5,"p":78.9,"q":100},{"s":"b24","b":"blue","t":300,"p":78.6,"q":100}
],
"c":[
{"s":"c0","b":"cyan","t":0,"p":0,"q":100},{"s":"c0","b":"cyan","t":300,"p":0,"q":100},
{"s":"c1","b":"spring","t":0,"p":4.3,"q":100},{"s":"c1","b":"spring","t":9,"p":4.7,"q":100},{"s":"c1","b":"spring","t":12.5,"p":5.3,"q":100},{"s":"c1","b":"spring","t":17.7,"p":5.3,"q":100},{"s":"c1","b":"spring","t":25.5,"p":4.1,"q":100},{"s":"c1","b":"spring","t":30.6,"p":4.4,"q":100},{"s":"c1","b":"spring","t":35.8,"p":5.9,"q":100},{"s":"c1","b":"spring","t":42.6,"p":7.1,"q":100},{"s":"c1","b":"spring","t":51.2,"p":7.1,"q":100},{"s":"c1","b":"spring","t":61.6,"p":5.7,"q":100},{"s":"c1","b":"spring","t":71.9,"p":5.1,"q":100},{"s":"c1","b":"spring","t":79.6,"p":3.6,"q":100},{"s":"c1","b":"spring","t":90.8,"p":3.9,"q":100},{"s":"c1","b":"spring","t":98.5,"p":3.3,"q":100},{"s":"c1","b":"spring","t":102.8,"p":0,"q":100},{"s":"c1","b":"spring","t":114,"p":0,"q":100},{"s":"c1","b":"spring","t":114.4,"p":1.2,"q":100},{"s":"c1","b":"spring","t":120,"p":1.5,"q":100},{"s":"c1","b":"spring","t":124.3,"p":0.3,"q":100},{"s":"c1","b":"spring","t":128.6,"p":0,"q":100},{"s":"c1","b":"spring","t":131.2,"p":2,"q":100},{"s":"c1","b":"spring","t":139,"p":1.7,"q":100},{"s":"c1","b":"spring","t":143.3,"p":1.1,"q":100},{"s":"c1","b":"spring","t":145.8,"p":2,"q":100},{"s":"c1","b":"spring","t":156,"p":1.1,"q":100},{"s":"c1","b":"spring","t":160.4,"p":1.7,"q":100},{"s":"c1","b":"spring","t":164.7,"p":1.3,"q":100},{"s":"c1","b":"spring","t":167.3,"p":0,"q":100},{"s":"c1","b":"spring","t":171.6,"p":0,"q":100},{"s":"c1","b":"spring","t":174.2,"p":1.6,"q":100},{"s":"c1","b":"spring","t":176.8,"p":1.3,"q":100},{"s":"c1","b":"spring","t":180,"p":0,"q":100},{"s":"c1","b":"spring","t":190.4,"p":0,"q":100},{"s":"c1","b":"spring","t":192.5,"p":2.1,"q":100},{"s":"c1","b":"spring","t":200,"p":3.1,"q":100},{"s":"c1","b":"spring","t":224.5,"p":3.3,"q":100},{"s":"c1","b":"spring","t":230,"p":1.3,"q":100},{"s":"c1","b":"spring","t":235.4,"p":0.4,"q":100},{"s":"c1","b":"spring","t":247,"p":0,"q":100},{"s":"c1","b":"spring","t":251.7,"p":2.5,"q":100},{"s":"c1","b":"spring","t":258.5,"p":3.6,"q":100},{"s":"c1","b":"spring","t":268,"p":3.6,"q":100},{"s":"c1","b":"spring","t":278.9,"p":4.4,"q":100},{"s":"c1","b":"spring","t":289.8,"p":4.4,"q":100},{"s":"c1","b":"spring","t":300,"p":3.2,"q":100},
{"s":"c2","b":"green","t":0,"p":11.4,"q":100},{"s":"c2","b":"green","t":8.3,"p":14,"q":100},{"s":"c2","b":"green","t":16.9,"p":17.6,"q":100},{"s":"c2","b":"green","t":22.9,"p":19.8,"q":100},{"s":"c2","b":"green","t":28.9,"p":21.2,"q":100},{"s":"c2","b":"green","t":31.5,"p":24,"q":100},{"s":"c2","b":"green","t":35.8,"p":25.7,"q":100},{"s":"c2","b":"green","t":40.9,"p":25.4,"q":100},{"s":"c2","b":"green","t":44.4,"p":22,"q":100},{"s":"c2","b":"green","t":52,"p":18.8,"q":100},{"s":"c2","b":"green","t":58,"p":17.6,"q":100},{"s":"c2","b":"green","t":66.7,"p":17.2,"q":100},{"s":"c2","b":"green","t":75.3,"p":15.5,"q":100},{"s":"c2","b":"green","t":87.4,"p":13.4,"q":100},{"s":"c2","b":"green","t":99.4,"p":12.1,"q":100},{"s":"c2","b":"green","t":109.7,"p":10.3,"q":100},{"s":"c2","b":"green","t":127,"p":9.7,"q":100},{"s":"c2","b":"green","t":145.8,"p":9,"q":100},{"s":"c2","b":"green","t":168,"p":8.7,"q":100},{"s":"c2","b":"green","t":183.7,"p":8.5,"q":100},{"s":"c2","b":"green","t":200,"p":9.3,"q":100},{"s":"c2","b":"green","t":216.3,"p":9.7,"q":100},{"s":"c2","b":"green","t":232.7,"p":8.5,"q":100},{"s":"c2","b":"green","t":243.5,"p":8.5,"q":100},{"s":"c2","b":"green","t":262.6,"p":9.9,"q":100},{"s":"c2","b":"green","t":278.9,"p":10.5,"q":100},{"s":"c2","b":"green","t":300,"p":9.7,"q":100},
{"s":"c3","b":"yellow","t":0,"p":18.4,"q":100},{"s":"c3","b":"yellow","t":4.8,"p":20.4,"q":100},{"s":"c3","b":"yellow","t":10.8,"p":25.6,"q":100},{"s":"c3","b":"yellow","t":16,"p":26.6,"q":100},{"s":"c3","b":"yellow","t":24,"p":26.3,"q":100},{"s":"c3","b":"yellow","t":28.9,"p":28.7,"q":100},{"s":"c3","b":"yellow","t":33.2,"p":30,"q":100},{"s":"c3","b":"yellow","t":40.9,"p":29.9,"q":100},{"s":"c3","b":"yellow","t":47.8,"p":27.9,"q":100},{"s":"c3","b":"yellow","t":54.7,"p":24,"q":100},{"s":"c3","b":"yellow","t":60.2,"p":23.2,"q":100},{"s":"c3","b":"yellow","t":67.6,"p":26.3,"q":100},{"s":"c3","b":"yellow","t":73.6,"p":26.2,"q":100},{"s":"c3","b":"yellow","t":80.5,"p":22.8,"q":100},{"s":"c3","b":"yellow","t":89,"p":21.3,"q":100},{"s":"c3","b":"yellow","t":101,"p":21.6,"q":100},{"s":"c3","b":"yellow","t":109.7,"p":19.8,"q":100},{"s":"c3","b":"yellow","t":123.5,"p":18.4,"q":100},{"s":"c3","b":"yellow","t":132,"p":17,"q":100},{"s":"c3","b":"yellow","t":142.4,"p":16.4,"q":100},{"s":"c3","b":"yellow","t":216.3,"p":16.4,"q":100},{"s":"c3","b":"yellow","t":239.5,"p":15.5,"q":100},{"s":"c3","b":"yellow","t":261,"p":16.4,"q":100},{"s":"c3","b":"yellow","t":274.8,"p":17,"q":100},{"s":"c3","b":"yellow","t":300,"p":16.7,"q":100},
{"s":"c4","b":"orange","t":0,"p":25,"q":100},{"s":"c4","b":"orange","t":10,"p":30.3,"q":100},{"s":"c4","b":"orange","t":22,"p":33.1,"q":100},{"s":"c4","b":"orange","t":35.8,"p":34.5,"q":100},{"s":"c4","b":"orange","t":47.8,"p":33.9,"q":100},{"s":"c4","b":"orange","t":59.8,"p":32.3,"q":100},{"s":"c4","b":"orange","t":73.6,"p":31.7,"q":100},{"s":"c4","b":"orange","t":84,"p":29.8,"q":100},{"s":"c4","b":"orange","t":90.8,"p":29.1,"q":100},{"s":"c4","b":"orange","t":97.7,"p":29.7,"q":100},{"s":"c4","b":"orange","t":104.6,"p":29.1,"q":100},{"s":"c4","b":"orange","t":113,"p":27.4,"q":100},{"s":"c4","b":"orange","t":123.5,"p":27.1,"q":100},{"s":"c4","b":"orange","t":128.6,"p":25.3,"q":100},{"s":"c4","b":"orange","t":133.8,"p":25,"q":100},{"s":"c4","b":"orange","t":142.4,"p":23.1,"q":100},{"s":"c4","b":"orange","t":147.5,"p":23.3,"q":100},{"s":"c4","b":"orange","t":152.4,"p":22.5,"q":100},{"s":"c4","b":"orange","t":161.3,"p":25.7,"q":100},{"s":"c4","b":"orange","t":170.8,"p":25.4,"q":100},{"s":"c4","b":"orange","t":176.8,"p":23.7,"q":100},{"s":"c4","b":"orange","t":184.5,"p":23.6,"q":100},{"s":"c4","b":"orange","t":192.7,"p":25.1,"q":100},{"s":"c4","b":"orange","t":197.3,"p":23.2,"q":100},{"s":"c4","b":"orange","t":202.4,"p":22.6,"q":100},{"s":"c4","b":"orange","t":206.8,"p":24.4,"q":100},{"s":"c4","b":"orange","t":215.6,"p":25.4,"q":100},{"s":"c4","b":"orange","t":224.5,"p":23,"q":100},{"s":"c4","b":"orange","t":234,"p":22,"q":100},{"s":"c4","b":"orange","t":240,"p":22,"q":100},{"s":"c4","b":"orange","t":243.5,"p":23.2,"q":100},{"s":"c4","b":"orange","t":250.3,"p":23.4,"q":100},{"s":"c4","b":"orange","t":256.5,"p":22.5,"q":100},{"s":"c4","b":"orange","t":262.6,"p":23,"q":100},{"s":"c4","b":"orange","t":270,"p":25.6,"q":100},{"s":"c4","b":"orange","t":280.3,"p":24,"q":100},{"s":"c4","b":"orange","t":300,"p":24.9,"q":100},
{"s":"c5","b":"red","t":0,"p":32.9,"q":100},{"s":"c5","b":"red","t":8.3,"p":36.3,"q":100},{"s":"c5","b":"red","t":18.6,"p":39,"q":100},{"s":"c5","b":"red","t":30.6,"p":40.8,"q":100},{"s":"c5","b":"red","t":46,"p":41.4,"q":100},{"s":"c5","b":"red","t":65,"p":39.6,"q":100},{"s":"c5","b":"red","t":96,"p":39.6,"q":100},{"s":"c5","b":"red","t":109.7,"p":38.9,"q":100},{"s":"c5","b":"red","t":123.5,"p":36.4,"q":100},{"s":"c5","b":"red","t":139,"p":33.9,"q":100},{"s":"c5","b":"red","t":147.5,"p":33.3,"q":100},{"s":"c5","b":"red","t":159.6,"p":34.1,"q":100},{"s":"c5","b":"red","t":175,"p":34.5,"q":100},{"s":"c5","b":"red","t":200,"p":34,"q":100},{"s":"c5","b":"red","t":227.2,"p":32.7,"q":100},{"s":"c5","b":"red","t":238,"p":32.5,"q":100},{"s":"c5","b":"red","t":247.6,"p":32.9,"q":100},{"s":"c5","b":"red","t":261.2,"p":34.7,"q":100},{"s":"c5","b":"red","t":274.8,"p":37.9,"q":100},{"s":"c5","b":"red","t":288.4,"p":41.4,"q":100},{"s":"c5","b":"red","t":300,"p":43.3,"q":100},
{"s":"c6","b":"orange","t":0,"p":51.9,"q":100},{"s":"c6","b":"orange","t":8.3,"p":50.2,"q":100},{"s":"c6","b":"orange","t":14.3,"p":49.6,"q":100},{"s":"c6","b":"orange","t":20,"p":48.3,"q":100},{"s":"c6","b":"orange","t":25.5,"p":50.2,"q":100},{"s":"c6","b":"orange","t":32.3,"p":51.2,"q":100},{"s":"c6","b":"orange","t":41.8,"p":51.2,"q":100},{"s":"c6","b":"orange","t":50.4,"p":48.4,"q":100},{"s":"c6","b":"orange","t":56.4,"p":49.4,"q":100},{"s":"c6","b":"orange","t":65,"p":52.9,"q":100},{"s":"c6","b":"orange","t":72.7,"p":52.5,"q":100},{"s":"c6","b":"orange","t":78.8,"p":49.4,"q":100},{"s":"c6","b":"orange","t":84.8,"p":47.8,"q":100},{"s":"c6","b":"orange","t":90.8,"p":45.4,"q":100},{"s":"c6","b":"orange","t":98.5,"p":45.2,"q":100},{"s":"c6","b":"orange","t":104.6,"p":47.8,"q":100},{"s":"c6","b":"orange","t":114.9,"p":47.5,"q":100},{"s":"c6","b":"orange","t":123.5,"p":46,"q":100},{"s":"c6","b":"orange","t":128.6,"p":46.6,"q":100},{"s":"c6","b":"orange","t":143.2,"p":52.5,"q":100},{"s":"c6","b":"orange","t":152.7,"p":52.4,"q":100},{"s":"c6","b":"orange","t":161.3,"p":48.7,"q":100},{"s":"c6","b":"orange","t":166.5,"p":48.6,"q":100},{"s":"c6","b":"orange","t":171.6,"p":49,"q":100},{"s":"c6","b":"orange","t":178.5,"p":48.4,"q":100},{"s":"c6","b":"orange","t":188.8,"p":48.7,"q":100},{"s":"c6","b":"orange","t":196.6,"p":52.5,"q":100},{"s":"c6","b":"orange","t":203.4,"p":53.2,"q":100},{"s":"c6","b":"orange","t":209.5,"p":52.1,"q":100},{"s":"c6","b":"orange","t":212.9,"p":50.6,"q":100},{"s":"c6","b":"orange","t":217,"p":50.6,"q":100},{"s":"c6","b":"orange","t":225.9,"p":52.5,"q":100},{"s":"c6","b":"orange","t":247.6,"p":54.9,"q":100},{"s":"c6","b":"orange","t":252.4,"p":54.9,"q":100},{"s":"c6","b":"orange","t":258.5,"p":53.3,"q":100},{"s":"c6","b":"orange","t":260.2,"p":51.7,"q":100},{"s":"c6","b":"orange","t":260.4,"p":48.6,"q":100},{"s":"c6","b":"orange","t":264,"p":47.4,"q":100},{"s":"c6","b":"orange","t":272,"p":47.5,"q":100},{"s":"c6","b":"orange","t":274.8,"p":49.4,"q":100},{"s":"c6","b":"orange","t":277,"p":49.6,"q":100},{"s":"c6","b":"orange","t":277.5,"p":48.2,"q":100},{"s":"c6","b":"orange","t":278,"p":47.1,"q":100},{"s":"c6","b":"orange","t":281,"p":46.6,"q":100},{"s":"c6","b":"orange","t":286.4,"p":48,"q":100},{"s":"c6","b":"orange","t":288.2,"p":52.1,"q":100},{"s":"c6","b":"orange","t":290.9,"p":54.8,"q":100},{"s":"c6","b":"orange","t":300,"p":54.9,"q":100},
{"s":"c7","b":"yellow","t":0,"p":56.4,"q":100},{"s":"c7","b":"yellow","t":16.9,"p":55.3,"q":100},{"s":"c7","b":"yellow","t":30.6,"p":55.9,"q":100},{"s":"c7","b":"yellow","t":47.8,"p":56.1,"q":100},{"s":"c7","b":"yellow","t":63.3,"p":56.6,"q":100},{"s":"c7","b":"yellow","t":73.6,"p":56.5,"q":100},{"s":"c7","b":"yellow","t":85.6,"p":55.2,"q":100},{"s":"c7","b":"yellow","t":92.5,"p":54.4,"q":100},{"s":"c7","b":"yellow","t":101,"p":54.7,"q":100},{"s":"c7","b":"yellow","t":121.8,"p":54.7,"q":100},{"s":"c7","b":"yellow","t":124.3,"p":54.4,"q":100},{"s":"c7","b":"yellow","t":133.8,"p":56,"q":100},{"s":"c7","b":"yellow","t":145.8,"p":57.1,"q":100},{"s":"c7","b":"yellow","t":170,"p":57.1,"q":100},{"s":"c7","b":"yellow","t":180.2,"p":58.1,"q":100},{"s":"c7","b":"yellow","t":190.5,"p":58.9,"q":100},{"s":"c7","b":"yellow","t":196,"p":59.3,"q":100},{"s":"c7","b":"yellow","t":221.8,"p":59.3,"q":100},{"s":"c7","b":"yellow","t":239.5,"p":61,"q":100},{"s":"c7","b":"yellow","t":250.3,"p":62.9,"q":100},{"s":"c7","b":"yellow","t":261.2,"p":65.6,"q":100},{"s":"c7","b":"yellow","t":269.4,"p":67.8,"q":100},{"s":"c7","b":"yellow","t":288.4,"p":71,"q":100},{"s":"c7","b":"yellow","t":300,"p":72.1,"q":100},
{"s":"c8","b":"green","t":0,"p":59.8,"q":100},{"s":"c8","b":"green","t":6.5,"p":59.6,"q":100},{"s":"c8","b":"green","t":34,"p":59.6,"q":100},{"s":"c8","b":"green","t":65,"p":60.5,"q":100},{"s":"c8","b":"green","t":82.2,"p":59.9,"q":100},{"s":"c8","b":"green","t":97.7,"p":59.3,"q":100},{"s":"c8","b":"green","t":109.7,"p":59.3,"q":100},{"s":"c8","b":"green","t":123.5,"p":59.7,"q":100},{"s":"c8","b":"green","t":142.4,"p":61,"q":100},{"s":"c8","b":"green","t":159.6,"p":61.8,"q":100},{"s":"c8","b":"green","t":173.3,"p":63.1,"q":100},{"s":"c8","b":"green","t":185.4,"p":64.8,"q":100},{"s":"c8","b":"green","t":193.2,"p":66.6,"q":100},{"s":"c8","b":"green","t":202.7,"p":65.6,"q":100},{"s":"c8","b":"green","t":213.6,"p":64.4,"q":100},{"s":"c8","b":"green","t":224.5,"p":64.3,"q":100},{"s":"c8","b":"green","t":236.7,"p":66,"q":100},{"s":"c8","b":"green","t":243.5,"p":69,"q":100},{"s":"c8","b":"green","t":247.6,"p":72,"q":100},{"s":"c8","b":"green","t":261.2,"p":72.8,"q":100},{"s":"c8","b":"green","t":265.3,"p":75.2,"q":100},{"s":"c8","b":"green","t":266.7,"p":77.1,"q":100},{"s":"c8","b":"green","t":273.5,"p":76.6,"q":100},{"s":"c8","b":"green","t":280.3,"p":74.5,"q":100},{"s":"c8","b":"green","t":284.4,"p":77.1,"q":100},{"s":"c8","b":"green","t":300,"p":78.3,"q":100},
{"s":"c9","b":"spring","t":0,"p":63.3,"q":100},{"s":"c9","b":"spring","t":10,"p":62.9,"q":100},{"s":"c9","b":"spring","t":27.2,"p":63.3,"q":100},{"s":"c9","b":"spring","t":47.8,"p":63.7,"q":100},{"s":"c9","b":"spring","t":70.2,"p":64,"q":100},{"s":"c9","b":"spring","t":85.6,"p":63.4,"q":100},{"s":"c9","b":"spring","t":114.9,"p":63.5,"q":100},{"s":"c9","b":"spring","t":133.8,"p":64.4,"q":100},{"s":"c9","b":"spring","t":151,"p":65.4,"q":100},{"s":"c9","b":"spring","t":166.5,"p":67.2,"q":100},{"s":"c9","b":"spring","t":175,"p":69.9,"q":100},{"s":"c9","b":"spring","t":185.4,"p":72.8,"q":100},{"s":"c9","b":"spring","t":189.7,"p":76.3,"q":100},{"s":"c9","b":"spring","t":193.2,"p":77.3,"q":100},{"s":"c9","b":"spring","t":199.3,"p":77.3,"q":100},{"s":"c9","b":"spring","t":202,"p":74,"q":100},{"s":"c9","b":"spring","t":205.4,"p":71.2,"q":100},{"s":"c9","b":"spring","t":209.5,"p":69,"q":100},{"s":"c9","b":"spring","t":217.7,"p":68.4,"q":100},{"s":"c9","b":"spring","t":227.2,"p":68.8,"q":100},{"s":"c9","b":"spring","t":234,"p":70.8,"q":100},{"s":"c9","b":"spring","t":239.5,"p":73.6,"q":100},{"s":"c9","b":"spring","t":243.5,"p":77.5,"q":100},{"s":"c9","b":"spring","t":250.9,"p":78.6,"q":100},{"s":"c9","b":"spring","t":254.4,"p":77.9,"q":100},{"s":"c9","b":"spring","t":258.2,"p":77.5,"q":100},{"s":"c9","b":"spring","t":261.9,"p":79.4,"q":100},{"s":"c9","b":"spring","t":269.4,"p":81,"q":100},{"s":"c9","b":"spring","t":281.6,"p":81.5,"q":100},{"s":"c9","b":"spring","t":300,"p":83.2,"q":100},
{"s":"c10","b":"cyan","t":0,"p":66.3,"q":100},{"s":"c10","b":"cyan","t":27.2,"p":66.2,"q":100},{"s":"c10","b":"cyan","t":47.8,"p":67.2,"q":100},{"s":"c10","b":"cyan","t":70.2,"p":68,"q":100},{"s":"c10","b":"cyan","t":82.2,"p":67.6,"q":100},{"s":"c10","b":"cyan","t":96,"p":67.2,"q":100},{"s":"c10","b":"cyan","t":116.6,"p":67.6,"q":100},{"s":"c10","b":"cyan","t":133.8,"p":69,"q":100},{"s":"c10","b":"cyan","t":154.4,"p":69.6,"q":100},{"s":"c10","b":"cyan","t":164.7,"p":71.2,"q":100},{"s":"c10","b":"cyan","t":170,"p":74,"q":100},{"s":"c10","b":"cyan","t":176.8,"p":77.9,"q":100},{"s":"c10","b":"cyan","t":183.7,"p":79.1,"q":100},{"s":"c10","b":"cyan","t":188.8,"p":80.7,"q":100},{"s":"c10","b":"cyan","t":196,"p":81,"q":100},{"s":"c10","b":"cyan","t":205.4,"p":78.7,"q":100},{"s":"c10","b":"cyan","t":208.2,"p":74.8,"q":100},{"s":"c10","b":"cyan","t":210.9,"p":72.5,"q":100},{"s":"c10","b":"cyan","t":215.6,"p":71.3,"q":100},{"s":"c10","b":"cyan","t":223.1,"p":71.3,"q":100},{"s":"c10","b":"cyan","t":229.9,"p":73.2,"q":100},{"s":"c10","b":"cyan","t":238,"p":78.7,"q":100},{"s":"c10","b":"cyan","t":244.9,"p":81.9,"q":100},{"s":"c10","b":"cyan","t":254.4,"p":83.9,"q":100},{"s":"c10","b":"cyan","t":268,"p":85.5,"q":100},{"s":"c10","b":"cyan","t":300,"p":87.8,"q":100},
{"s":"c11","b":"azure","t":0,"p":69.8,"q":100},{"s":"c11","b":"azure","t":10,"p":69.6,"q":100},{"s":"c11","b":"azure","t":25.5,"p":70.2,"q":100},{"s":"c11","b":"azure","t":47.8,"p":70.8,"q":100},{"s":"c11","b":"azure","t":61.6,"p":72.4,"q":100},{"s":"c11","b":"azure","t":71,"p":73.6,"q":100},{"s":"c11","b":"azure","t":82.2,"p":72,"q":100},{"s":"c11","b":"azure","t":92.5,"p":71,"q":100},{"s":"c11","b":"azure","t":102.8,"p":71,"q":100},{"s":"c11","b":"azure","t":113,"p":72.2,"q":100},{"s":"c11","b":"azure","t":123.5,"p":72.5,"q":100},{"s":"c11","b":"azure","t":129.5,"p":74.4,"q":100},{"s":"c11","b":"azure","t":134.7,"p":75.6,"q":100},{"s":"c11","b":"azure","t":144,"p":74.2,"q":100},{"s":"c11","b":"azure","t":154.4,"p":74.2,"q":100},{"s":"c11","b":"azure","t":163.3,"p":75.8,"q":100},{"s":"c11","b":"azure","t":165.3,"p":78.3,"q":100},{"s":"c11","b":"azure","t":171.4,"p":82.7,"q":100},{"s":"c11","b":"azure","t":179.6,"p":85.2,"q":100},{"s":"c11","b":"azure","t":189,"p":86.4,"q":100},{"s":"c11","b":"azure","t":197.3,"p":86.3,"q":100},{"s":"c11","b":"azure","t":205.4,"p":85,"q":100},{"s":"c11","b":"azure","t":211.6,"p":82.9,"q":100},{"s":"c11","b":"azure","t":213.6,"p":79.9,"q":100},{"s":"c11","b":"azure","t":213.8,"p":76.1,"q":100},{"s":"c11","b":"azure","t":217,"p":75.3,"q":100},{"s":"c11","b":"azure","t":221.8,"p":76.6,"q":100},{"s":"c11","b":"azure","t":227.9,"p":82.3,"q":100},{"s":"c11","b":"azure","t":238,"p":86.7,"q":100},{"s":"c11","b":"azure","t":254.4,"p":89.4,"q":100},{"s":"c11","b":"azure","t":268,"p":90.4,"q":100},{"s":"c11","b":"azure","t":300,"p":92.1,"q":100},
{"s":"c12","b":"blue","t":0,"p":74.1,"q":100},{"s":"c12","b":"blue","t":18.6,"p":74.2,"q":100},{"s":"c12","b":"blue","t":30.6,"p":75.3,"q":100},{"s":"c12","b":"blue","t":42.6,"p":75,"q":100},{"s":"c12","b":"blue","t":56.4,"p":76.6,"q":100},{"s":"c12","b":"blue","t":65,"p":79.5,"q":100},{"s":"c12","b":"blue","t":73.6,"p":79.5,"q":100},{"s":"c12","b":"blue","t":87.4,"p":76.7,"q":100},{"s":"c12","b":"blue","t":97.7,"p":76,"q":100},{"s":"c12","b":"blue","t":102,"p":76.7,"q":100},{"s":"c12","b":"blue","t":106.3,"p":78.3,"q":100},{"s":"c12","b":"blue","t":118.3,"p":79.3,"q":100},{"s":"c12","b":"blue","t":125.2,"p":81.3,"q":100},{"s":"c12","b":"blue","t":139,"p":83.7,"q":100},{"s":"c12","b":"blue","t":145.8,"p":87.7,"q":100},{"s":"c12","b":"blue","t":150.2,"p":92.2,"q":100},{"s":"c12","b":"blue","t":151,"p":95.6,"q":100},{"s":"c12","b":"blue","t":154.4,"p":94.6,"q":100},{"s":"c12","b":"blue","t":159.2,"p":95.4,"q":100},{"s":"c12","b":"blue","t":163.9,"p":97,"q":100},{"s":"c12","b":"blue","t":167.3,"p":99.3,"q":100},{"s":"c12","b":"blue","t":168,"p":100,"q":100},{"s":"c12","b":"blue","t":176.8,"p":100,"q":100},{"s":"c12","b":"blue","t":179,"p":97.4,"q":100},{"s":"c12","b":"blue","t":200,"p":97.1,"q":100},{"s":"c12","b":"blue","t":204,"p":99,"q":100},{"s":"c12","b":"blue","t":208.2,"p":99.1,"q":100},{"s":"c12","b":"blue","t":210.9,"p":97.8,"q":100},{"s":"c12","b":"blue","t":219,"p":96.7,"q":100},{"s":"c12","b":"blue","t":228.6,"p":95.6,"q":100},{"s":"c12","b":"blue","t":254.4,"p":95.6,"q":100},{"s":"c12","b":"blue","t":281.6,"p":96,"q":100},{"s":"c12","b":"blue","t":300,"p":97.3,"q":100},
{"s":"c13","b":"azure","t":0,"p":92.5,"q":100},{"s":"c13","b":"azure","t":1.5,"p":93.4,"q":100},{"s":"c13","b":"azure","t":5,"p":95.8,"q":100},{"s":"c13","b":"azure","t":8,"p":98,"q":100},{"s":"c13","b":"azure","t":10,"p":99.4,"q":100},{"s":"c13","b":"azure","t":11,"p":100,"q":100},
{"s":"c14","b":"azure","t":13,"p":100,"q":100},{"s":"c14","b":"azure","t":15,"p":99,"q":100},{"s":"c14","b":"azure","t":18,"p":97.5,"q":100},{"s":"c14","b":"azure","t":21,"p":97.5,"q":100},{"s":"c14","b":"azure","t":24.6,"p":99,"q":100},{"s":"c14","b":"azure","t":26,"p":100,"q":100},
{"s":"c15","b":"azure","t":35,"p":100,"q":100},{"s":"c15","b":"azure","t":40,"p":97.4,"q":100},{"s":"c15","b":"azure","t":44.4,"p":96.7,"q":100},{"s":"c15","b":"azure","t":58,"p":96.8,"q":100},{"s":"c15","b":"azure","t":64,"p":96.4,"q":100},{"s":"c15","b":"azure","t":75.3,"p":97.2,"q":100},{"s":"c15","b":"azure","t":78.8,"p":98.2,"q":100},{"s":"c15","b":"azure","t":84,"p":99.1,"q":100},{"s":"c15","b":"azure","t":85.6,"p":100,"q":100},
{"s":"c16","b":"azure","t":96,"p":100,"q":100},{"s":"c16","b":"azure","t":97.5,"p":99,"q":100},{"s":"c16","b":"azure","t":99.5,"p":100,"q":100},
{"s":"c17","b":"azure","t":145.5,"p":100,"q":100},{"s":"c17","b":"azure","t":147.2,"p":96.4,"q":100},{"s":"c17","b":"azure","t":151,"p":96.2,"q":100},{"s":"c17","b":"azure","t":152.2,"p":100,"q":100}
]},
"vconcat":[
{"bounds":"flush","spacing":7,"hconcat":[
{"width":1224,"height":986,"layer":[
{"data":{"name":"a"},"mark":{"type":"area","stroke":"black","strokeWidth":4},"encoding":{
"x":{"field":"t","type":"quantitative","scale":{"domain":[0,300],"nice":false},"axis":{"title":"Time (s)","values":[0,25,50,75,100,125,150,175,200,225,250,275,300],"labelExpr":"datum.value%50==0?datum.label:''","grid":false,"domainWidth":12,"domainColor":"black","domainCap":"round","tickColor":"black","tickWidth":11,"tickCap":"round","tickSize":{"condition":{"test":"datum.value%50==0","value":36},"value":23},"labelFontSize":52,"labelColor":"black","labelPadding":14,"labelFlush":false,"labelOverlap":false,"titleFontSize":54,"titleFontWeight":"normal","titleColor":"black","titlePadding":6,"zindex":1}},
"y":{"field":"p","type":"quantitative","scale":{"domain":[0,100],"nice":false},"axis":{"title":"Position (mm)","values":[0,10,20,30,40,50,60,70,80,90,100],"labelExpr":"datum.value%20==0?datum.label:''","grid":false,"domainWidth":12,"domainColor":"black","domainCap":"round","tickColor":"black","tickWidth":11,"tickCap":"round","tickSize":{"condition":{"test":"datum.value%20==0","value":36},"value":23},"labelFontSize":52,"labelColor":"black","labelPadding":18,"labelFlush":false,"labelOverlap":false,"labelOffset":-9,"titleFontSize":56,"titleFontWeight":"normal","titleColor":"black","titlePadding":21,"titleY":499,"zindex":1}},
"y2":{"field":"q"},"detail":{"field":"s"},"color":{"field":"b","type":"nominal","legend":null,"scale":{"domain":["black","blue","azure","cyan","spring","green","yellow","orange","red","gray"],"range":["#000000","#0000ff","#0080ff","#00ffff","#00ff80","#00ff00","#ffff00","#ff8000","#ff0000","#d3d3d3"]}}}},
{"data":{"values":[{"t":300}]},"mark":{"type":"rule","color":"black","strokeWidth":12,"strokeCap":"square"},"encoding":{"x":{"field":"t","type":"quantitative"}}},
{"data":{"values":[{"p":100}]},"mark":{"type":"rule","color":"black","strokeWidth":12,"strokeCap":"square"},"encoding":{"y":{"field":"p","type":"quantitative"}}},
{"data":{"values":[{"t":2,"p":93.7,"label":"(a)"}]},"mark":{"type":"text","align":"left","baseline":"middle","fontSize":80,"color":"black"},"encoding":{"x":{"field":"t","type":"quantitative"},"y":{"field":"p","type":"quantitative"},"text":{"field":"label"}}}
]},
{"width":60,"height":995,"layer":[
{"data":{"values":[{"b":"black","lo":0.7,"hi":1.26},{"b":"blue","lo":1.26,"hi":1.82},{"b":"azure","lo":1.82,"hi":2.38},{"b":"cyan","lo":2.38,"hi":2.94},{"b":"spring","lo":2.94,"hi":3.5},{"b":"green","lo":3.5,"hi":4.06},{"b":"yellow","lo":4.06,"hi":4.62},{"b":"orange","lo":4.62,"hi":5.18},{"b":"red","lo":5.18,"hi":5.74},{"b":"gray","lo":5.74,"hi":6.3}]},"mark":"rect","encoding":{
"y":{"field":"lo","type":"quantitative","scale":{"domain":[0.7,6.926],"nice":false},"axis":{"orient":"right","title":null,"values":[1.26,1.82,2.38,2.94,3.5,4.06,4.62,5.18,5.74],"format":".4r","grid":false,"domain":false,"ticks":false,"labelFontSize":52,"labelColor":"black","labelPadding":7,"labelFlush":false,"labelOverlap":false,"labelOffset":6}},
"y2":{"field":"hi"},"color":{"field":"b","type":"nominal","legend":null,"scale":{"domain":["black","blue","azure","cyan","spring","green","yellow","orange","red","gray"],"range":["#000000","#0000ff","#0080ff","#00ffff","#00ff80","#00ff00","#ffff00","#ff8000","#ff0000","#d3d3d3"]}}}},
{"data":{"values":[{"label":"EEDF","x":0.3,"lo":6.838},{"label":"Ratio","x":0.3,"lo":6.475}]},"mark":{"type":"text","align":"left","baseline":"middle","fontSize":42,"color":"black"},"encoding":{"x":{"field":"x","type":"quantitative","scale":{"domain":[0,1]},"axis":null},"y":{"field":"lo","type":"quantitative"},"text":{"field":"label"}}}
]},
{"width":372,"height":10,"data":{"values":[]},"mark":{"type":"point","opacity":0}},
{"width":1225,"height":986,"layer":[
{"data":{"name":"b"},"mark":{"type":"area","stroke":"black","strokeWidth":4},"encoding":{
"x":{"field":"t","type":"quantitative","scale":{"domain":[0,300],"nice":false},"axis":{"title":"Time (s)","values":[0,25,50,75,100,125,150,175,200,225,250,275,300],"labelExpr":"datum.value%50==0?datum.label:''","grid":false,"domainWidth":12,"domainColor":"black","domainCap":"round","tickColor":"black","tickWidth":11,"tickCap":"round","tickSize":{"condition":{"test":"datum.value%50==0","value":36},"value":23},"labelFontSize":52,"labelColor":"black","labelPadding":14,"labelFlush":false,"labelOverlap":false,"titleFontSize":54,"titleFontWeight":"normal","titleColor":"black","titlePadding":40,"zindex":1}},
"y":{"field":"p","type":"quantitative","scale":{"domain":[0,100],"nice":false},"axis":{"title":"Position (mm)","values":[0,10,20,30,40,50,60,70,80,90,100],"labelExpr":"datum.value%20==0?datum.label:''","grid":false,"domainWidth":12,"domainColor":"black","domainCap":"round","tickColor":"black","tickWidth":11,"tickCap":"round","tickSize":{"condition":{"test":"datum.value%20==0","value":36},"value":23},"labelFontSize":52,"labelColor":"black","labelPadding":18,"labelFlush":false,"labelOverlap":false,"labelOffset":-9,"titleFontSize":56,"titleFontWeight":"normal","titleColor":"black","titlePadding":21,"titleY":499,"zindex":1}},
"y2":{"field":"q"},"detail":{"field":"s"},"color":{"field":"b","type":"nominal","legend":null,"scale":{"domain":["black","blue","azure","cyan","spring","green","yellow","orange","red","gray"],"range":["#000000","#0000ff","#0080ff","#00ffff","#00ff80","#00ff00","#ffff00","#ff8000","#ff0000","#d3d3d3"]}}}},
{"data":{"values":[{"t":300}]},"mark":{"type":"rule","color":"black","strokeWidth":12,"strokeCap":"square"},"encoding":{"x":{"field":"t","type":"quantitative"}}},
{"data":{"values":[{"p":100}]},"mark":{"type":"rule","color":"black","strokeWidth":12,"strokeCap":"square"},"encoding":{"y":{"field":"p","type":"quantitative"}}},
{"data":{"values":[{"t":5,"p":93,"label":"(b)"}]},"mark":{"type":"text","align":"left","baseline":"middle","fontSize":80,"color":"black"},"encoding":{"x":{"field":"t","type":"quantitative"},"y":{"field":"p","type":"quantitative"},"text":{"field":"label"}}}
]},
{"width":71,"height":977,"layer":[
{"data":{"values":[{"b":"black","lo":0.5625,"hi":1.8},{"b":"blue","lo":1.8,"hi":3.037},{"b":"azure","lo":3.037,"hi":4.275},{"b":"cyan","lo":4.275,"hi":5.513},{"b":"spring","lo":5.513,"hi":6.75},{"b":"green","lo":6.75,"hi":7.988},{"b":"yellow","lo":7.988,"hi":9.225},{"b":"orange","lo":9.225,"hi":10.46},{"b":"red","lo":10.46,"hi":11.7},{"b":"gray","lo":11.7,"hi":12.94}]},"mark":"rect","encoding":{
"y":{"field":"lo","type":"quantitative","scale":{"domain":[0.5625,14.556],"nice":false},"axis":{"orient":"right","title":null,"values":[1.8,3.037,4.275,5.513,6.75,7.988,9.225,10.46,11.7],"format":".4r","grid":false,"domain":false,"ticks":false,"labelFontSize":52,"labelColor":"black","labelPadding":7,"labelFlush":false,"labelOverlap":false,"labelOffset":5}},
"y2":{"field":"hi"},"color":{"field":"b","type":"nominal","legend":null,"scale":{"domain":["black","blue","azure","cyan","spring","green","yellow","orange","red","gray"],"range":["#000000","#0000ff","#0080ff","#00ffff","#00ff80","#00ff00","#ffff00","#ff8000","#ff0000","#d3d3d3"]}}}},
{"data":{"values":[{"label":"EEDF","x":0.225,"lo":14.301},{"label":"Ratio","x":0.225,"lo":13.483}]},"mark":{"type":"text","align":"left","baseline":"middle","fontSize":42,"color":"black"},"encoding":{"x":{"field":"x","type":"quantitative","scale":{"domain":[0,1]},"axis":null},"y":{"field":"lo","type":"quantitative"},"text":{"field":"label"}}}
]}
]},
{"bounds":"flush","spacing":7,"hconcat":[
{"width":866,"height":10,"data":{"values":[]},"mark":{"type":"point","opacity":0}},
{"width":1225,"height":986,"layer":[
{"data":{"name":"c"},"mark":{"type":"area","stroke":"black","strokeWidth":4},"encoding":{
"x":{"field":"t","type":"quantitative","scale":{"domain":[0,300],"nice":false},"axis":{"title":"Time (s)","values":[0,25,50,75,100,125,150,175,200,225,250,275,300],"labelExpr":"datum.value%50==0?datum.label:''","grid":false,"domainWidth":12,"domainColor":"black","domainCap":"round","tickColor":"black","tickWidth":11,"tickCap":"round","tickSize":{"condition":{"test":"datum.value%50==0","value":36},"value":23},"labelFontSize":52,"labelColor":"black","labelPadding":14,"labelFlush":false,"labelOverlap":false,"titleFontSize":54,"titleFontWeight":"normal","titleColor":"black","titlePadding":30,"zindex":1}},
"y":{"field":"p","type":"quantitative","scale":{"domain":[0,100],"nice":false},"axis":{"title":"Position (mm)","values":[0,10,20,30,40,50,60,70,80,90,100],"labelExpr":"datum.value%20==0?datum.label:''","grid":false,"domainWidth":12,"domainColor":"black","domainCap":"round","tickColor":"black","tickWidth":11,"tickCap":"round","tickSize":{"condition":{"test":"datum.value%20==0","value":36},"value":23},"labelFontSize":52,"labelColor":"black","labelPadding":18,"labelFlush":false,"labelOverlap":false,"labelOffset":-9,"titleFontSize":54,"titleFontWeight":"normal","titleColor":"black","titlePadding":-3,"titleY":473,"zindex":1}},
"y2":{"field":"q"},"detail":{"field":"s"},"color":{"field":"b","type":"nominal","legend":null,"scale":{"domain":["black","blue","azure","cyan","spring","green","yellow","orange","red","gray"],"range":["#000000","#0000ff","#0080ff","#00ffff","#00ff80","#00ff00","#ffff00","#ff8000","#ff0000","#d3d3d3"]}}}},
{"data":{"values":[{"t":300}]},"mark":{"type":"rule","color":"black","strokeWidth":12,"strokeCap":"square"},"encoding":{"x":{"field":"t","type":"quantitative"}}},
{"data":{"values":[{"p":100}]},"mark":{"type":"rule","color":"black","strokeWidth":12,"strokeCap":"square"},"encoding":{"y":{"field":"p","type":"quantitative"}}},
{"data":{"values":[{"t":4,"p":93,"label":"(c)"}]},"mark":{"type":"text","align":"left","baseline":"middle","fontSize":80,"color":"black"},"encoding":{"x":{"field":"t","type":"quantitative"},"y":{"field":"p","type":"quantitative"},"text":{"field":"label"}}}
]},
{"width":63,"height":973,"layer":[
{"data":{"values":[{"b":"black","lo":0.8875,"hi":1.7},{"b":"blue","lo":1.7,"hi":2.512},{"b":"azure","lo":2.512,"hi":3.325},{"b":"cyan","lo":3.325,"hi":4.137},{"b":"spring","lo":4.137,"hi":4.95},{"b":"green","lo":4.95,"hi":5.762},{"b":"yellow","lo":5.762,"hi":6.575},{"b":"orange","lo":6.575,"hi":7.387},{"b":"red","lo":7.387,"hi":8.2},{"b":"gray","lo":8.2,"hi":9.0125}]},"mark":"rect","encoding":{
"y":{"field":"lo","type":"quantitative","scale":{"domain":[0.8875,9.74],"nice":false},"axis":{"orient":"right","title":null,"values":[1.7,2.512,3.325,4.137,4.95,5.762,6.575,7.387,8.2],"format":".4r","grid":false,"domain":false,"ticks":false,"labelFontSize":52,"labelColor":"black","labelPadding":7,"labelFlush":false,"labelOverlap":false,"labelOffset":5}},
"y2":{"field":"hi"},"color":{"field":"b","type":"nominal","legend":null,"scale":{"domain":["black","blue","azure","cyan","spring","green","yellow","orange","red","gray"],"range":["#000000","#0000ff","#0080ff","#00ffff","#00ff80","#00ff00","#ffff00","#ff8000","#ff0000","#d3d3d3"]}}}},
{"data":{"values":[{"label":"EEDF","x":0.33,"lo":9.779},{"label":"Ratio","x":0.33,"lo":9.26}]},"mark":{"type":"text","align":"left","baseline":"middle","fontSize":42,"color":"black"},"encoding":{"x":{"field":"x","type":"quantitative","scale":{"domain":[0,1]},"axis":null},"y":{"field":"lo","type":"quantitative"},"text":{"field":"label"}}}
]}
]}
]}
